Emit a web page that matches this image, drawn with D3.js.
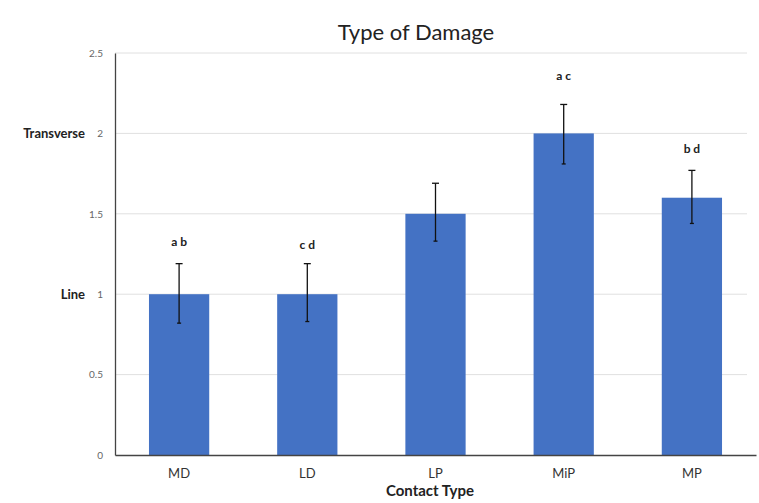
<!DOCTYPE html>
<html><head><meta charset="utf-8">
<script src="https://cdn.jsdelivr.net/npm/d3@7"></script>
<style>body{margin:0;background:#fff}svg{display:block}</style>
</head><body>
<script>
const categories = ["MD", "LD", "LP", "MiP", "MP"];
const values = [1.0, 1.0, 1.5, 2.0, 1.6];
const errLow = [0.82, 0.83, 1.33, 1.81, 1.44];
const errHigh = [1.19, 1.19, 1.69, 2.18, 1.77];
const letters = ["a b", "c d", "", "a c", "b d"];
const letterY = [1.30, 1.28, null, 2.33, 1.88];
const yTicks = [0, 0.5, 1, 1.5, 2, 2.5];
const yCatLabels = [{v: 2, t: "Transverse"}, {v: 1, t: "Line"}];

const W = 759, H = 503;
const font = "Lato, 'Open Sans', sans-serif";
const svg = d3.select("body").append("svg").attr("width", W).attr("height", H);

const x = d3.scaleBand().domain(categories).range([115, 756]).paddingInner(0.53).paddingOuter(0.265);
const y = d3.scaleLinear().domain([0, 2.5]).range([455, 53]);

// gridlines
svg.append("g").selectAll("line").data(yTicks.filter(d => d > 0)).join("line")
  .attr("x1", 115).attr("x2", 747).attr("y1", d => y(d)).attr("y2", d => y(d))
  .attr("stroke", "#e0e0e0").attr("stroke-width", 1);

// bars
svg.append("g").selectAll("rect").data(categories).join("rect")
  .attr("x", d => x(d)).attr("width", x.bandwidth())
  .attr("y", (d, i) => y(values[i])).attr("height", (d, i) => y(0) - y(values[i]))
  .attr("fill", "#4472C4");

// error bars
const eb = svg.append("g").attr("stroke", "#111").attr("stroke-width", 1.3);
categories.forEach((c, i) => {
  const cx = x(c) + x.bandwidth() / 2;
  eb.append("line").attr("x1", cx).attr("x2", cx).attr("y1", y(errHigh[i])).attr("y2", y(errLow[i]));
  eb.append("line").attr("x1", cx - 3.5).attr("x2", cx + 3.5).attr("y1", y(errHigh[i])).attr("y2", y(errHigh[i]));
  eb.append("line").attr("x1", cx - 2).attr("x2", cx + 2).attr("y1", y(errLow[i])).attr("y2", y(errLow[i]));
});

// letters
svg.append("g").selectAll("text").data(categories.filter((c, i) => letters[i])).join("text")
  .attr("x", d => x(d) + x.bandwidth() / 2)
  .attr("y", d => y(letterY[categories.indexOf(d)]))
  .attr("text-anchor", "middle").attr("font-family", font).attr("font-weight", "bold")
  .attr("font-size", 12).attr("fill", "#222")
  .text(d => letters[categories.indexOf(d)]);

// axes
const yAxis = svg.append("g").attr("transform", "translate(115,0)")
  .call(d3.axisLeft(y).tickValues(yTicks).tickSize(0).tickPadding(12).tickFormat(d3.format("~g")));
yAxis.select(".domain").attr("stroke", "#444").attr("stroke-width", 1.3);
yAxis.selectAll("text").attr("font-family", font).attr("font-size", 10).attr("fill", "#666");

const xAxis = svg.append("g").attr("transform", "translate(0,455)")
  .call(d3.axisBottom(x).tickSize(0).tickPadding(14));
xAxis.select(".domain").attr("stroke", "#444").attr("stroke-width", 1.3);
xAxis.selectAll("text").attr("font-family", font).attr("font-size", 13).attr("fill", "#333");

// y category labels
svg.append("g").selectAll("text").data(yCatLabels).join("text")
  .attr("x", 85).attr("y", d => y(d.v)).attr("dy", "0.35em")
  .attr("text-anchor", "end").attr("font-family", font).attr("font-weight", "bold")
  .attr("font-size", 13).attr("fill", "#222").text(d => d.t);

// title
svg.append("text").attr("x", 416).attr("y", 40).attr("text-anchor", "middle")
  .attr("font-family", font).attr("font-size", 22).attr("fill", "#222").text("Type of Damage");

// x axis title
svg.append("text").attr("x", 430).attr("y", 496).attr("text-anchor", "middle")
  .attr("font-family", font).attr("font-weight", "bold").attr("font-size", 15).attr("fill", "#222").text("Contact Type");
</script>
</body></html>
